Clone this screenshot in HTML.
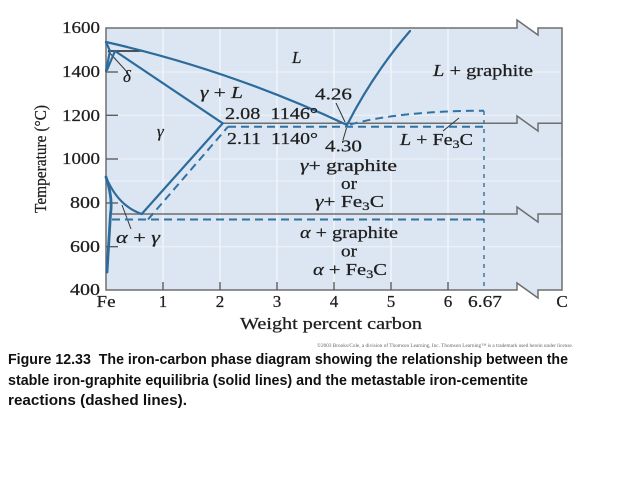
<!DOCTYPE html>
<html><head><meta charset="utf-8"><style>
html,body{margin:0;padding:0;background:#fff;}
svg{display:block;}
.s{font-family:"Liberation Serif","DejaVu Serif",serif;fill:#1e1e1e;stroke:#1e1e1e;stroke-width:0.25;}
.i{font-style:italic;}
.c{font-family:"Liberation Sans","DejaVu Sans",sans-serif;font-weight:bold;fill:#111;}
</style></head><body>
<svg width="638" height="479" viewBox="0 0 638 479" xmlns="http://www.w3.org/2000/svg">
<rect width="638" height="479" fill="#fff"/>
<!-- plot background -->
<path d="M106,28 L517,28 L517,20 L538,35 L538,28 L562,28 L562,290 L538,290 L538,298 L517,283 L517,290 L106,290 Z" fill="#dce6f2"/>
<!-- grid -->
<g stroke="#f4f8fc" stroke-width="1.2">
<line x1="163" y1="28" x2="163" y2="290"/><line x1="220" y1="28" x2="220" y2="290"/>
<line x1="277" y1="28" x2="277" y2="290"/><line x1="334" y1="28" x2="334" y2="290"/>
<line x1="391" y1="28" x2="391" y2="290"/><line x1="448" y1="28" x2="448" y2="290"/>
</g>
<g stroke="#eef3f9" stroke-width="1">
<line x1="106" y1="72" x2="562" y2="72"/>
<line x1="106" y1="115.3" x2="562" y2="115.3"/>
<line x1="106" y1="159" x2="562" y2="159"/>
<line x1="106" y1="181" x2="562" y2="181"/>
<line x1="106" y1="246.7" x2="562" y2="246.7"/>
</g>
<!-- frame -->
<path d="M106,28 L517,28 L517,20 L538,35 L538,28 L562,28 L562,290 L538,290 L538,298 L517,283 L517,290 L106,290 Z" fill="none" stroke="#6e6e6e" stroke-width="1.5"/>
<!-- ticks -->
<g stroke="#555" stroke-width="1.3">
<line x1="106" y1="72" x2="118" y2="72"/><line x1="106" y1="115.3" x2="118" y2="115.3"/>
<line x1="106" y1="159" x2="118" y2="159"/><line x1="106" y1="203" x2="118" y2="203"/>
<line x1="106" y1="246.7" x2="118" y2="246.7"/>
<line x1="163" y1="290" x2="163" y2="282"/><line x1="220" y1="290" x2="220" y2="282"/>
<line x1="277" y1="290" x2="277" y2="282"/><line x1="334" y1="290" x2="334" y2="282"/>
<line x1="391" y1="290" x2="391" y2="282"/><line x1="448" y1="290" x2="448" y2="282"/>
</g>
<!-- solid gray horizontals with breaks -->
<g fill="none" stroke="#6e6e6e" stroke-width="1.5">
<path d="M222.7,123.3 L517,123.3 L517,116 L538,131 L538,123.3 L562,123.3"/>
<path d="M110,214 L517,214 L517,207 L538,222 L538,214 L562,214"/>
</g>
<!-- peritectic line -->
<line x1="108" y1="51" x2="144" y2="51" stroke="#222" stroke-width="1.5"/>
<!-- leaders -->
<g stroke="#333" stroke-width="1" fill="none">
<line x1="108" y1="51" x2="128" y2="73"/>
<line x1="122" y1="205" x2="131" y2="229"/>
<line x1="336" y1="103" x2="345" y2="122"/>
<line x1="343" y1="140" x2="346.5" y2="128"/>
<line x1="443" y1="131" x2="459" y2="118"/>
</g>
<!-- blue solid lines -->
<g fill="none" stroke="#2c6c9c" stroke-width="2.2" stroke-linecap="round">
<path d="M106,42 Q230,70 347,125"/>
<path d="M347,125 Q373,74 410,31"/>
<path d="M115,51 L222.7,123.3"/>
<path d="M141.7,214 L222.7,123.3"/>
<path d="M106,177 Q118,206 141.7,214"/>
<path d="M106,42 L110,51 L106,71"/>
<path d="M115,51 L107,70"/>
<path d="M106,177 Q113,198 110.5,214 Q108.5,245 107,272" stroke-width="2.8"/>
</g>
<!-- blue dashed lines -->
<g fill="none" stroke="#2f72a3" stroke-width="2" stroke-dasharray="8,5">
<path d="M148,219.5 L228,126.7"/>
<path d="M228,126.7 L484,126.7"/>
<path d="M350,124.5 Q400,111 484,110.7"/>
<path d="M112,219.5 L484,219.5"/>
</g>
<path d="M484,111 L484,290" fill="none" stroke="#2f72a3" stroke-width="1.4" stroke-dasharray="4,5"/>
<!-- y tick labels -->
<g class="s" font-size="17" text-anchor="end">
<text x="100" y="33" textLength="38" lengthAdjust="spacingAndGlyphs">1600</text>
<text x="100" y="77" textLength="38" lengthAdjust="spacingAndGlyphs">1400</text>
<text x="100" y="121" textLength="38" lengthAdjust="spacingAndGlyphs">1200</text>
<text x="100" y="164" textLength="38" lengthAdjust="spacingAndGlyphs">1000</text>
<text x="100" y="208" textLength="30" lengthAdjust="spacingAndGlyphs">800</text>
<text x="100" y="252" textLength="30" lengthAdjust="spacingAndGlyphs">600</text>
<text x="100" y="295" textLength="30" lengthAdjust="spacingAndGlyphs">400</text>
</g>
<!-- x tick labels -->
<g class="s" font-size="17" text-anchor="middle">
<text x="106" y="307" textLength="19" lengthAdjust="spacingAndGlyphs">Fe</text>
<text x="163" y="307">1</text><text x="220" y="307">2</text><text x="277" y="307">3</text>
<text x="334" y="307">4</text><text x="391" y="307">5</text><text x="448" y="307">6</text>
<text x="485" y="307" textLength="34" lengthAdjust="spacingAndGlyphs">6.67</text>
<text x="562" y="307">C</text>
</g>
<text class="s" x="240" y="329" font-size="17" textLength="182" lengthAdjust="spacingAndGlyphs">Weight percent carbon</text>
<text class="s" transform="translate(46,159) rotate(-90)" text-anchor="middle" font-size="17" textLength="108" lengthAdjust="spacingAndGlyphs">Temperature (°C)</text>
<!-- region labels -->
<g class="s" font-size="17">
<text class="i" x="292" y="63">L</text>
<text class="i" x="123" y="82">δ</text>
<text x="200" y="98" textLength="43" lengthAdjust="spacingAndGlyphs"><tspan class="i">γ</tspan> + <tspan class="i">L</tspan></text>
<text x="225" y="119" textLength="93" lengthAdjust="spacingAndGlyphs">2.08&#160;&#160;1146°</text>
<text class="i" x="157" y="137">γ</text>
<text x="227" y="144" textLength="91" lengthAdjust="spacingAndGlyphs">2.11&#160;&#160;1140°</text>
<text x="315" y="99.5" textLength="37" lengthAdjust="spacingAndGlyphs">4.26</text>
<text x="325" y="151.5" textLength="37" lengthAdjust="spacingAndGlyphs">4.30</text>
<text x="433" y="76" textLength="100" lengthAdjust="spacingAndGlyphs"><tspan class="i">L</tspan> + graphite</text>
<text x="400" y="145" textLength="73" lengthAdjust="spacingAndGlyphs"><tspan class="i">L</tspan> + Fe<tspan font-size="12" dy="3">3</tspan><tspan dy="-3">C</tspan></text>
<text x="300" y="171" textLength="97" lengthAdjust="spacingAndGlyphs"><tspan class="i">γ</tspan>+ graphite</text>
<text x="341" y="189" textLength="16" lengthAdjust="spacingAndGlyphs">or</text>
<text x="315" y="207" textLength="69" lengthAdjust="spacingAndGlyphs"><tspan class="i">γ</tspan>+ Fe<tspan font-size="12" dy="3">3</tspan><tspan dy="-3">C</tspan></text>
<text x="300" y="238" textLength="98" lengthAdjust="spacingAndGlyphs"><tspan class="i">α</tspan> + graphite</text>
<text x="341" y="256.5" textLength="16" lengthAdjust="spacingAndGlyphs">or</text>
<text x="313" y="275" textLength="74" lengthAdjust="spacingAndGlyphs"><tspan class="i">α</tspan> + Fe<tspan font-size="12" dy="3">3</tspan><tspan dy="-3">C</tspan></text>
<text x="116" y="243" textLength="44" lengthAdjust="spacingAndGlyphs"><tspan class="i">α</tspan> + <tspan class="i">γ</tspan></text>
</g>
<!-- copyright -->
<text x="317" y="347" font-family="Liberation Serif, serif" font-size="5" fill="#666" textLength="256" lengthAdjust="spacingAndGlyphs">©2003 Brooks/Cole, a division of Thomson Learning, Inc.  Thomson Learning™ is a trademark used herein under license.</text>
<!-- caption -->
<g class="c" font-size="14.5">
<text x="8" y="364" textLength="560" lengthAdjust="spacingAndGlyphs">Figure 12.33&#160;&#160;The iron-carbon phase diagram showing the relationship between the</text>
<text x="8" y="385" textLength="520" lengthAdjust="spacingAndGlyphs">stable iron-graphite equilibria (solid lines) and the metastable iron-cementite</text>
<text x="8" y="405" textLength="179" lengthAdjust="spacingAndGlyphs">reactions (dashed lines).</text>
</g>
</svg>
</body></html>
